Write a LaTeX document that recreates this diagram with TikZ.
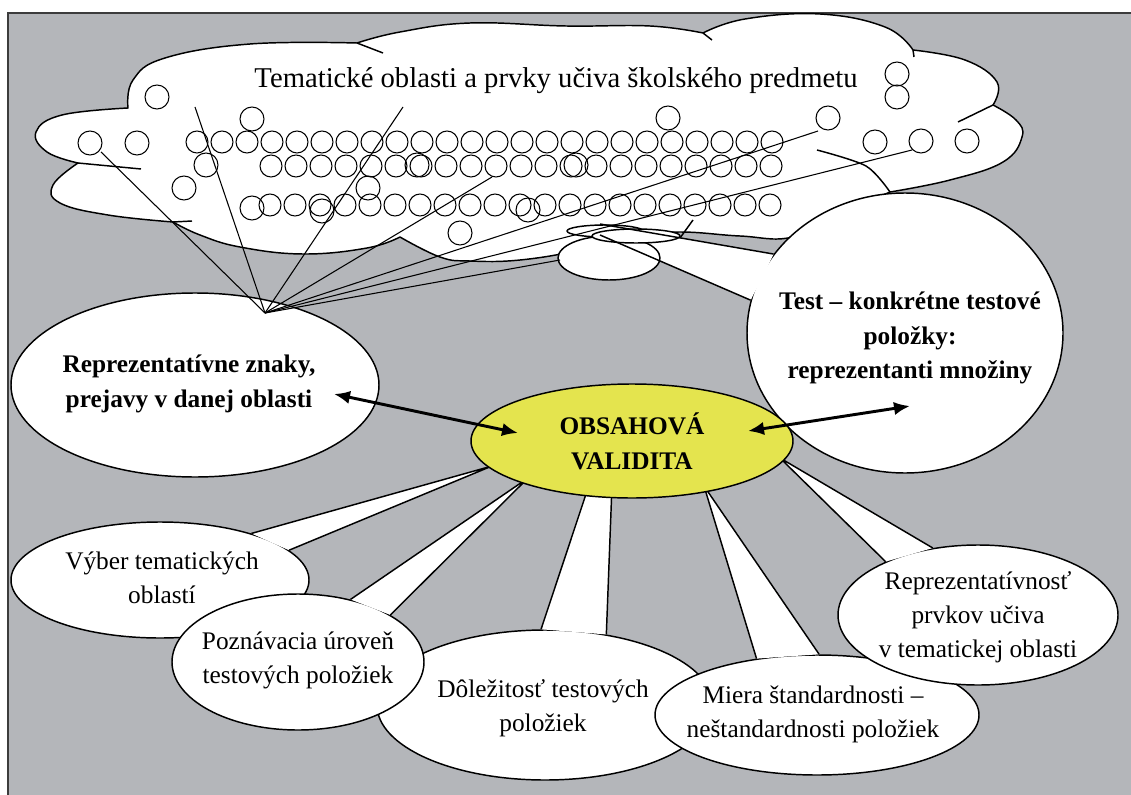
\documentclass[tikz,border=0pt]{standalone}
\usepackage{fontspec}
\setmainfont{Liberation Serif}
\usetikzlibrary{arrows.meta,shapes.geometric}
\definecolor{pozadie}{RGB}{180,182,186}
\definecolor{ramcek}{RGB}{60,60,60}
\definecolor{zlta}{RGB}{228,228,78}

\begin{document}
\begin{tikzpicture}[x=0.75pt, y=-0.75pt,
  obrys/.style={draw=black, line width=1.1pt, line join=round},
  bublina/.style={ellipse, draw=black, fill=white, line width=1.1pt, inner sep=0pt},
  popis/.style={font=\fontsize{19}{25.5}\selectfont, align=center, inner sep=0pt},
  tucny/.style={font=\fontsize{19}{26}\selectfont\bfseries, align=center, inner sep=0pt},
  kruh/.style={draw=black, line width=0.8pt},
  ciara/.style={draw=black, line width=0.8pt},
  sipka/.style={{Latex[length=12pt,width=10pt]}-{Latex[length=12pt,width=10pt]}, line width=2.2pt}]
  \useasboundingbox (0,0) rectangle (1131,795);
  \fill[white] (0,0) rectangle (1131,795);
  \fill[pozadie] (8,13) rectangle (1131,795);
  \draw[ramcek, line width=1.5pt] (8,795) -- (8,13) -- (1131,13);

  % oblak
  \filldraw[obrys, fill=white]
    plot[smooth, tension=0.7] coordinates {(128,108) (133,80) (165,58) (250,44) (357,43)}
    -- plot[smooth, tension=0.7] coordinates {(357,43) (400,32) (470,23) (566,26) (650,26) (703,33)}
    -- plot[smooth, tension=0.7] coordinates {(703,33) (745,19) (820,14) (885,27) (913,50)}
    -- plot[smooth, tension=0.7] coordinates {(913,50) (965,60) (997,82) (993,105)}
    -- plot[smooth, tension=0.7] coordinates {(993,105) (1016,120) (1022,137) (1003,162) (950,180) (890,192)}
    -- plot[smooth, tension=0.7] coordinates {(890,192) (845,212) (793,237) (740,236) (680,232) (625,236)}
    -- plot[smooth, tension=0.7] coordinates {(625,236) (580,250) (520,260) (470,261) (440,257) (400,237)}
    -- plot[smooth, tension=0.7] coordinates {(400,237) (367,248) (303,254) (240,247) (200,235) (173,222)}
    -- plot[smooth, tension=0.7] coordinates {(173,222) (108,215) (60,203) (53,185) (78,163)}
    -- plot[smooth, tension=0.7] coordinates {(78,163) (47,152) (36,132) (62,115) (128,108)}
    -- cycle;
  \draw[obrys] (78,163) -- (141,169);
  \draw[obrys] (173,222) -- (192,221);
  \draw[obrys] (357,43) -- (383,53);
  \draw[obrys] (703,33) -- (712,40);
  \draw[obrys] (913,50) -- (914,57);
  \draw[obrys] (993,105) -- (958,122);
  \draw[obrys] plot[smooth] coordinates {(817,150) (866,166) (890,192)};

  \node[font=\fontsize{21.5}{26}\selectfont, anchor=base, inner sep=0pt] (nadpis) at (556,88)
    {Tematické oblasti a prvky učiva školského predmetu};

  \foreach \i in {0,...,23} \draw[kruh] (197+25*\i,142) circle[radius=8.25pt];
  \foreach \i in {0,...,20} \draw[kruh] (271+25*\i,166) circle[radius=8.25pt];
  \foreach \i in {0,...,20} \draw[kruh] (270+25*\i,205) circle[radius=8.25pt];
  \foreach \x/\y in {157/97, 90/143, 137/143, 206/165, 184/188, 252/119, 252/208,
      322/211, 368/188, 417/165, 460/233, 528/210, 576/165, 668/118, 828/118,
      875/142, 921/141, 967/141, 897/74, 897/97}
    \draw[kruh] (\x,\y) circle[radius=9pt];

  % test
  \node[bublina, minimum width=237pt, minimum height=210pt] (test) at (905,333) {};
  \coordinate (testhrot1) at (600,224);
  \coordinate (testhrot2) at (600,235);
  \fill[white] (test.168) -- (testhrot2) -- (testhrot1) -- (test.149) -- cycle;
  \filldraw[obrys, fill=white] (609,258) ellipse[x radius=38.25pt, y radius=16.5pt];
  \filldraw[obrys, fill=white] (605,231) ellipse[x radius=28.5pt, y radius=4.5pt];
  \filldraw[obrys, fill=white] (636,236) ellipse[x radius=33pt, y radius=5.25pt];
  \draw[obrys] (test.168) -- (testhrot2);
  \draw[obrys] (test.149) -- (testhrot1);
  \draw[obrys] (693,220) -- (680,238);
  \node[tucny] (testtxt) at (910,338) {Test – konkrétne testové\\položky:\\reprezentanti množiny};

  % znaky
  \node[bublina, minimum width=276pt, minimum height=138pt] (znaky) at (195,385) {};
  \node[tucny] (znakytxt) at (189,384) {Reprezentatívne znaky,\\prejavy v danej oblasti};
  \coordinate (stred) at (265,313);
  \foreach \x/\y [count=\n] in {101/152, 195/107, 403/107, 492/177, 818/131, 912/150, 560/260} {
    \coordinate (prvok\n) at (\x,\y);
    \draw[ciara] (stred) -- (prvok\n);
  }

  % dolezitost
  \node[bublina, minimum width=252pt, minimum height=112.5pt] (dolez) at (545,705) {};
  \coordinate (dolezhrot1) at (589,485);
  \coordinate (dolezhrot2) at (612,485);
  \fill[white] (dolez.93) -- (dolezhrot1) -- (dolezhrot2) -- (dolez.49) -- cycle;
  \draw[obrys] (dolez.93) -- (dolezhrot1) (dolezhrot2) -- (dolez.49);
  \node[popis] (doleztxt) at (543,708) {Dôležitosť testových\\položiek};

  % vyber
  \node[bublina, minimum width=223.5pt, minimum height=87pt] (vyber) at (160,580) {};
  \coordinate (vyberhrot) at (492,466);
  \fill[white] (vyber.27) -- (vyberhrot) -- (vyber.13) -- cycle;
  \draw[obrys] (vyber.27) -- (vyberhrot) -- (vyber.13);
  \node[popis] (vybertxt) at (162,578) {Výber tematických\\oblastí};

  % poznavacia
  \node[bublina, minimum width=189pt, minimum height=102pt] (pozn) at (298,662) {};
  \coordinate (poznhrot) at (528,478);
  \fill[white] (pozn.50) -- (poznhrot) -- (pozn.27) -- cycle;
  \draw[obrys] (pozn.50) -- (poznhrot) -- (pozn.27);
  \node[popis] (pozntxt) at (298,660) {Poznávacia úroveň\\testových položiek};

  % miera
  \node[bublina, minimum width=243pt, minimum height=90pt] (miera) at (817,715) {};
  \coordinate (mierahrot) at (704,486);
  \fill[white] (miera.137) -- (mierahrot) -- (miera.88) -- cycle;
  \draw[obrys] (miera.137) -- (mierahrot) -- (miera.88);
  \node[popis] (mieratxt) at (813,714) {Miera štandardnosti –\\neštandardnosti položiek};

  % reprezentativnost
  \node[bublina, minimum width=210pt, minimum height=105pt] (reprez) at (978,615) {};
  \coordinate (reprezhrot) at (780,458);
  \fill[white] (reprez.150) -- (reprezhrot) -- (reprez.124) -- cycle;
  \draw[obrys] (reprez.150) -- (reprezhrot) -- (reprez.124);
  \node[popis] (repreztxt) at (978,617) {Reprezentatívnosť\\prvkov učiva\\v tematickej oblasti};

  \node[ellipse, draw=black, fill=zlta, line width=1.1pt, inner sep=0pt,
        minimum width=241.5pt, minimum height=85.5pt, tucny] (obsah) at (632,441) {OBSAHOVÁ\\VALIDITA};

  \coordinate (znakysipka) at (334,394);
  \coordinate (obsahsipka1) at (518,433);
  \coordinate (obsahsipka2) at (748,431);
  \coordinate (testsipka) at (910,406);
  \draw[sipka] (znakysipka) -- (obsahsipka1);
  \draw[sipka] (obsahsipka2) -- (testsipka);
\end{tikzpicture}
\end{document}
